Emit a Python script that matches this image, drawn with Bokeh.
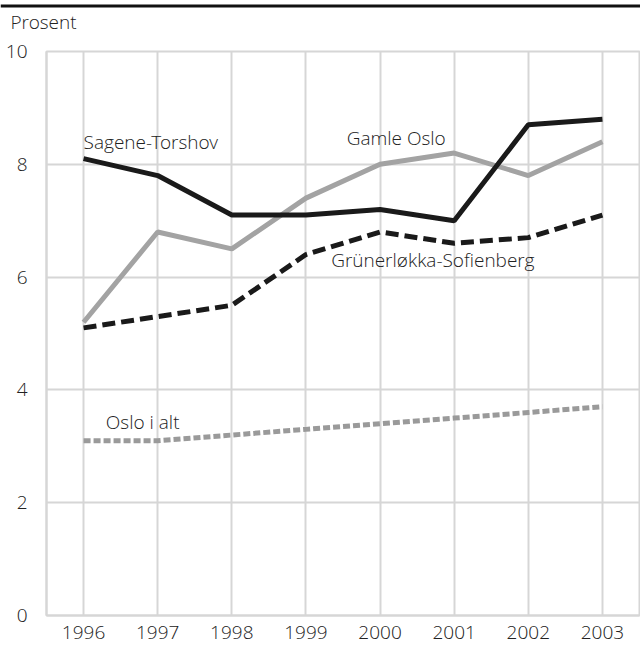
from bokeh.plotting import figure
from bokeh.models import Label, Span, FixedTicker, Range1d
from bokeh.layouts import column
from bokeh.embed import file_html
from bokeh.resources import INLINE

years = [1996, 1997, 1998, 1999, 2000, 2001, 2002, 2003]
sagene_torshov = [8.1, 7.8, 7.1, 7.1, 7.2, 7.0, 8.7, 8.8]
gamle_oslo = [5.2, 6.8, 6.5, 7.4, 8.0, 8.2, 7.8, 8.4]
grunerlokka = [5.1, 5.3, 5.5, 6.4, 6.8, 6.6, 6.7, 7.1]
oslo_i_alt = [3.1, 3.1, 3.2, 3.3, 3.4, 3.5, 3.6, 3.7]
y_ticks = [0, 2, 4, 6, 8, 10]

FONT = "Open Sans Light, Open Sans"
TXT = "#222222"
GRID = "#d6d6d6"
W = 640

# ---- header: top rule and unit label ----
HH = 38
head = figure(width=W, height=HH, output_backend="svg", toolbar_location=None,
              x_range=Range1d(0, W), y_range=Range1d(0, HH),
              x_axis_type=None, y_axis_type=None,
              min_border_left=0, min_border_right=0, min_border_top=0, min_border_bottom=0)
head.frame_align = False
head.outline_line_color = None
head.xgrid.visible = False
head.ygrid.visible = False
head.border_fill_color = "white"
head.background_fill_color = "white"
head.add_layout(Span(location=HH - 5.5, dimension="width", line_color="#111111", line_width=3))
head.add_layout(Label(x=10, y=HH - 21, text="Prosent", text_font=FONT, text_font_size="19px",
                      text_color=TXT, text_baseline="middle", text_align="left"))

# ---- main chart ----
p = figure(width=W, height=607, output_backend="svg", toolbar_location=None,
           x_range=Range1d(1995.5, 2003.5), y_range=Range1d(0, 10),
           min_border_left=46, min_border_right=1, min_border_top=13, min_border_bottom=30)
p.frame_align = False

p.xaxis.ticker = FixedTicker(ticks=years)
p.yaxis.ticker = FixedTicker(ticks=y_ticks)
for ax in (p.xaxis, p.yaxis):
    ax.major_tick_line_color = None
    ax.minor_tick_line_color = None
    ax.axis_line_color = GRID
    ax.axis_line_width = 2
    ax.major_label_text_font = FONT
    ax.major_label_text_font_size = "19px"
    ax.major_label_text_color = TXT
p.xaxis.major_label_standoff = 4
p.yaxis.major_label_standoff = 13

p.xgrid.grid_line_color = GRID
p.xgrid.grid_line_width = 2
p.ygrid.grid_line_color = GRID
p.ygrid.grid_line_width = 2
p.outline_line_color = GRID
p.outline_line_width = 2
p.background_fill_color = "white"
p.border_fill_color = "white"

p.line(years, oslo_i_alt, line_color="#9a9a9a", line_width=5, line_dash="7 3")
p.line(years, gamle_oslo, line_color="#a3a3a3", line_width=5)
p.line(years, grunerlokka, line_color="#1a1a1a", line_width=5, line_dash="13 6")
p.line(years, sagene_torshov, line_color="#1a1a1a", line_width=5)

def lab(x, y, t):
    p.add_layout(Label(x=x, y=y, text=t, text_font=FONT, text_font_size="19px",
                       text_color=TXT, text_baseline="middle", text_align="left"))

lab(1996.0, 8.40, "Sagene-Torshov")
lab(1999.55, 8.47, "Gamle Oslo")
lab(1999.34, 6.30, "Grünerløkka-Sofienberg")
lab(1996.3, 3.43, "Oslo i alt")

layout = column(head, p, spacing=0)

open("out.html", "w").write(file_html(layout, INLINE))
